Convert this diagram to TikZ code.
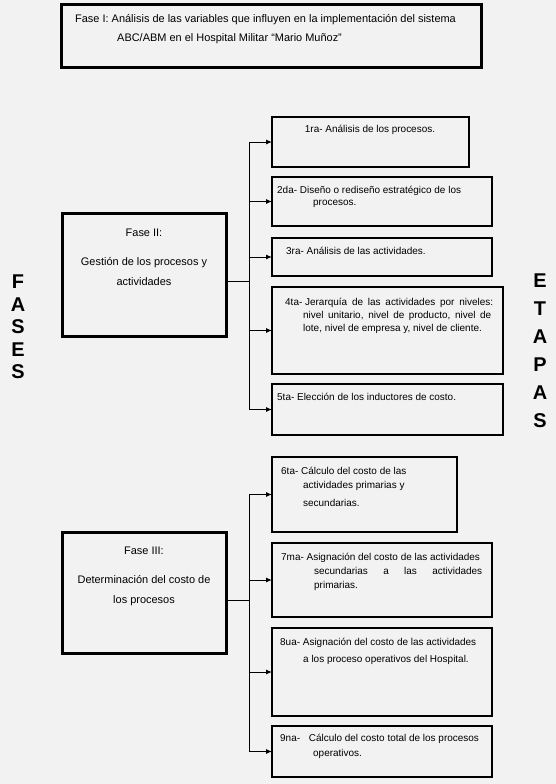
\documentclass[tikz,border=0pt]{standalone}
\usepackage{fontspec}
\setmainfont{Liberation Sans}
\usepackage{xcolor}
\usetikzlibrary{arrows.meta}
\definecolor{paper}{RGB}{242,242,242}

\begin{document}
\begin{tikzpicture}[x=1bp, y=-1bp,
    fasebox/.style={draw, line width=3bp, anchor=north west, inner sep=0, outer sep=0},
    etapabox/.style={draw, line width=1.8bp, anchor=north west, inner sep=0, outer sep=0},
    txt/.style={anchor=north west, inner sep=0, align=left, font=\fontsize{10}{13}\selectfont},
    ctxt/.style={anchor=north, inner sep=0, align=center, font=\fontsize{10}{13}\selectfont},
    fasetxt/.style={inner sep=0, font=\fontsize{11}{13}\selectfont},
    side/.style={anchor=north, inner sep=0, align=center, font=\fontsize{20}{22.5}\selectfont\bfseries},
    link/.style={line width=1bp},
    arr/.style={line width=1bp, -{Latex[length=6bp, width=5bp]}}]
    \useasboundingbox[fill=paper] (0,0) rectangle (556,784);

    % fases
    \node[fasebox, minimum width=420bp, minimum height=62bp] at (61,5) (f1) {};
    \node[txt, fasetxt] at (75,14) (f1t) {Fase I: Análisis de las variables que influyen en la implementación del sistema\\[6bp]\hspace*{42bp}ABC/ABM en el Hospital Militar “Mario Muñoz”};
    \node[fasebox, minimum width=164bp, minimum height=123bp] at (62,213) (f2) {};
    \node[ctxt, fasetxt] at (144,229) (f2t) {Fase II:\\[16bp]Gestión de los procesos y\\[7bp]actividades};
    \node[fasebox, minimum width=164bp, minimum height=121bp] at (62,532) (f3) {};
    \node[ctxt, fasetxt] at (144,547) (f3t) {Fase III:\\[16bp]Determinación del costo de\\[7bp]los procesos};

    \node[side] at (18,275) (fases) {F\\A\\S\\E\\S};
    \node[side, font=\fontsize{20}{28}\selectfont\bfseries] at (540,274) (etapas) {E\\T\\A\\P\\A\\S};

    % etapas
    \node[etapabox, minimum width=197bp, minimum height=50bp] at (272,117) (e1) {};
    \node[ctxt] at (370,125) (e1t) {1ra- Análisis de los procesos.};
    \node[etapabox, minimum width=220bp, minimum height=49bp] at (272,177) (e2) {};
    \node[txt] at (277,186) (e2t) {2da- Diseño o rediseño estratégico de los\\[-1bp]\hspace*{36bp}procesos.};
    \node[etapabox, minimum width=220bp, minimum height=38bp] at (272,238) (e3) {};
    \node[txt] at (286,247) (e3t) {3ra- Análisis de las actividades.};
    \node[etapabox, minimum width=231bp, minimum height=87bp] at (272,287) (e4) {};
    \node[txt] at (285,298) (e4t) {4ta- \makebox[188bp][s]{Jerarquía de las actividades por niveles:}\\\hspace*{18bp}\makebox[188bp][s]{nivel unitario, nivel de producto, nivel de}\\\hspace*{18bp}lote, nivel de empresa y, nivel de cliente.};
    \node[etapabox, minimum width=231bp, minimum height=51bp] at (272,384) (e5) {};
    \node[txt] at (277,393) (e5t) {5ta- Elección de los inductores de costo.};

    \node[etapabox, minimum width=185bp, minimum height=75bp] at (272,457) (e6) {};
    \node[txt] at (281,467) (e6t) {6ta- Cálculo del costo de las\\[1bp]\hspace*{22bp}actividades primarias y\\[5bp]\hspace*{22bp}secundarias.};
    \node[etapabox, minimum width=220bp, minimum height=74bp] at (272,543) (e7) {};
    \node[txt] at (281,553) (e7t) {7ma- Asignación del costo de las actividades\\[1bp]\hspace*{33bp}\makebox[168bp][s]{secundarias a las actividades}\\[1bp]\hspace*{33bp}primarias.};
    \node[etapabox, minimum width=220bp, minimum height=88bp] at (272,628) (e8) {};
    \node[txt] at (280,638) (e8t) {8ua- Asignación del costo de las actividades\\[4bp]\hspace*{23bp}a los proceso operativos del Hospital.};
    \node[etapabox, minimum width=220bp, minimum height=51bp] at (272,726) (e9) {};
    \node[txt] at (280,734) (e9t) {9na-\hspace{6bp} Cálculo del costo total de los procesos\\[2bp]\hspace*{33bp}operativos.};

    % conectores
    \coordinate (j2) at (249,281);
    \coordinate (j3) at (249,600);
    \draw[link] (f2.east |- j2) -- (j2);
    \draw[link] (j2 |- e1.west) -- (j2 |- e5.west);
    \foreach \n in {1,...,5}
        \draw[arr] (j2 |- e\n.west) -- (e\n.west);
    \draw[link] (f3.east |- j3) -- (j3);
    \draw[link] (j3 |- e6.west) -- (j3 |- e9.west);
    \foreach \n in {6,...,9}
        \draw[arr] (j3 |- e\n.west) -- (e\n.west);
\end{tikzpicture}
\end{document}
